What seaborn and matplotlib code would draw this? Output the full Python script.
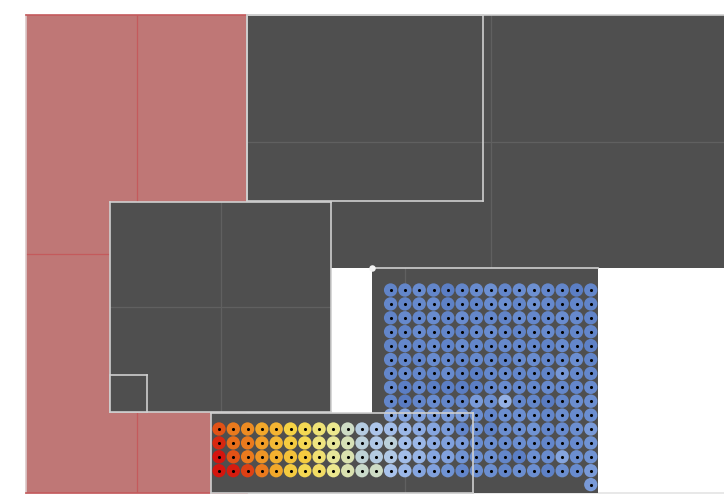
import numpy as np
import pandas as pd
import matplotlib
matplotlib.use("Agg")
import matplotlib.pyplot as plt
import seaborn as sns
from matplotlib.colors import LinearSegmentedColormap

# ─── DATA ────────────────────────────────────────────────────────────────────
# warm block: grid rows 10-13, columns 0-11
warm_rows = [
    [0.93, 0.88, 0.85, 0.80, 0.77, 0.70, 0.68, 0.63, 0.60, 0.50, 0.43, 0.41],
    [0.98, 0.90, 0.88, 0.82, 0.76, 0.72, 0.68, 0.62, 0.58, 0.53, 0.45, 0.42],
    [1.00, 0.93, 0.88, 0.83, 0.78, 0.74, 0.72, 0.64, 0.58, 0.54, 0.46, 0.43],
    [1.00, 0.99, 0.95, 0.88, 0.80, 0.72, 0.68, 0.66, 0.60, 0.54, 0.49, 0.50],
]
warm_first_row = 10

# cool block: grid rows 0-13, columns 12-26
cool_rows = [
    [0.14, 0.15, 0.18, 0.15, 0.10, 0.15, 0.18, 0.21, 0.15, 0.19, 0.21, 0.16, 0.15, 0.10, 0.15],
    [0.16, 0.14, 0.17, 0.19, 0.12, 0.16, 0.14, 0.18, 0.20, 0.15, 0.21, 0.17, 0.12, 0.15, 0.14],
    [0.13, 0.17, 0.15, 0.18, 0.14, 0.19, 0.16, 0.15, 0.14, 0.18, 0.16, 0.15, 0.19, 0.17, 0.13],
    [0.15, 0.13, 0.18, 0.16, 0.15, 0.12, 0.17, 0.19, 0.15, 0.14, 0.17, 0.18, 0.14, 0.16, 0.15],
    [0.14, 0.16, 0.15, 0.17, 0.13, 0.18, 0.15, 0.14, 0.17, 0.16, 0.15, 0.13, 0.18, 0.15, 0.12],
    [0.16, 0.15, 0.13, 0.18, 0.16, 0.14, 0.17, 0.15, 0.13, 0.17, 0.19, 0.15, 0.16, 0.20, 0.14],
    [0.15, 0.17, 0.16, 0.14, 0.18, 0.12, 0.10, 0.16, 0.17, 0.15, 0.16, 0.14, 0.24, 0.17, 0.16],
    [0.17, 0.10, 0.16, 0.09, 0.10, 0.09, 0.10, 0.15, 0.18, 0.16, 0.15, 0.17, 0.16, 0.15, 0.18],
    [0.15, 0.08, 0.15, 0.18, 0.15, 0.15, 0.25, 0.20, 0.34, 0.15, 0.15, 0.08, 0.15, 0.20, 0.20],
    [0.32, 0.30, 0.28, 0.25, 0.25, 0.25, 0.20, 0.15, 0.20, 0.20, 0.20, 0.15, 0.20, 0.18, 0.20],
    [0.38, 0.36, 0.32, 0.30, 0.25, 0.15, 0.20, 0.12, 0.20, 0.20, 0.22, 0.15, 0.18, 0.20, 0.25],
    [0.45, 0.38, 0.36, 0.32, 0.28, 0.25, 0.20, 0.20, 0.18, 0.20, 0.20, 0.15, 0.20, 0.18, 0.22],
    [0.42, 0.38, 0.35, 0.30, 0.28, 0.22, 0.20, 0.20, 0.15, 0.10, 0.20, 0.18, 0.30, 0.20, 0.22],
    [0.40, 0.36, 0.30, 0.28, 0.22, 0.15, 0.20, 0.20, 0.15, 0.20, 0.20, 0.12, 0.20, 0.18, 0.25],
]
cool_first_col = 12

# the single trailing dot
tail_col = [26]
tail_row = [14]
tail_value = [0.25]

corner_x = [0.0]
corner_y = [1.0]

# ─── STYLE ───────────────────────────────────────────────────────────────────
DARK = "#4f4f4f"
GRID = "#606060"
LIGHT = "#cfcfcf"
RED_FACE = "#bf7776"
RED_GRID = "#c45a5c"

dot_cmap = LinearSegmentedColormap.from_list("dots", [
    "#5070b8", "#5b7ec4", "#6b8ed0", "#86a5df", "#a9c3ec", "#cddcc6",
    "#ece88e", "#f6d446", "#f2a82a", "#e8701a", "#d4150e"])

sns.set_theme(style="dark", rc={"axes.facecolor": DARK})

W, H = 724, 495
fig = plt.figure(figsize=(W / 100, H / 100), dpi=100)


def px(x0, y0, x1, y1):
    return [x0 / W, 1 - y1 / H, (x1 - x0) / W, (y1 - y0) / H]


def panel(rect, face=DARK, xticks=(), yticks=(), xlim=(0, 1), ylim=(0, 1),
          spines=("top", "bottom", "left", "right"), spine_color=LIGHT,
          grid_color=GRID):
    ax = fig.add_axes(rect)
    ax.set_facecolor(face)
    ax.set_xlim(*xlim)
    ax.set_ylim(*ylim)
    ax.set_xticks(list(xticks))
    ax.set_yticks(list(yticks))
    ax.tick_params(length=0, labelbottom=False, labelleft=False)
    ax.grid(True, color=grid_color, lw=0.9)
    for side, sp in ax.spines.items():
        sp.set_visible(side in spines)
        sp.set_color(spine_color)
        sp.set_linewidth(1.2)
    return ax


# faint base line along the bottom
panel(px(26, 15, 735, 493), face="none", spines=("bottom",), spine_color="#e4e4e4")

# big dark panel, top right
panel(px(247, 15, 735, 268), xticks=[0.5], yticks=[0.5], spines=("top",))

# red panel
ax_red = panel(px(26, 15, 247, 493), face=RED_FACE, xticks=[0.5], yticks=[0.5],
               spine_color=RED_GRID, grid_color=RED_GRID)
ax_red.spines["left"].set_color("#dcc8c8")
ax_red.spines["right"].set_color(LIGHT)

# outline panel inside the top-right one
panel(px(247, 15, 483, 201), face="none")

# middle panel and its small corner inset
panel(px(110, 202, 331, 412), xticks=[0.5], yticks=[0.5])
panel(px(110, 375, 147, 412))

# column / row coordinates of the dot grid: col c -> 219 + 14.3c px, row r -> 290 + 13.9r px
col_px, row_px = 14.3, 13.9


def cols(x):
    return (x - 219) / col_px


def rows(y):
    return (y - 290) / row_px


# scatter panel on the right
ax_e = panel(px(372, 268, 598, 493), xticks=[13], xlim=(cols(372), cols(598)),
             ylim=(rows(493), rows(268)), spines=("top",))
ax_e.scatter(corner_x, corner_y, s=22, color="#f2f2f2", transform=ax_e.transAxes,
             clip_on=False, zorder=5, linewidth=0)

# bottom panel that owns the dots
ax_f = panel(px(211, 413, 473, 493), xticks=[13], xlim=(cols(211), cols(473)),
             ylim=(rows(493), rows(413)))

records = []
for i, row in enumerate(warm_rows):
    for c, v in enumerate(row):
        records.append((c, warm_first_row + i, v))
for r, row in enumerate(cool_rows):
    for j, v in enumerate(row):
        records.append((cool_first_col + j, r, v))
for c, r, v in zip(tail_col, tail_row, tail_value):
    records.append((c, r, v))
dots = pd.DataFrame(records, columns=["col", "row", "value"])

sns.scatterplot(data=dots, x="col", y="row", hue="value", palette=dot_cmap,
                hue_norm=(0, 1), s=92, linewidth=0, legend=False, ax=ax_f,
                clip_on=False, zorder=2)
sns.scatterplot(data=dots, x="col", y="row", color="black", s=5, linewidth=0,
                legend=False, ax=ax_f, clip_on=False, zorder=2.1)
ax_f.set_xlim(cols(211), cols(473))
ax_f.set_ylim(rows(493), rows(413))
ax_f.set_xlabel("")
ax_f.set_ylabel("")

fig.savefig("out.png", dpi=100)
